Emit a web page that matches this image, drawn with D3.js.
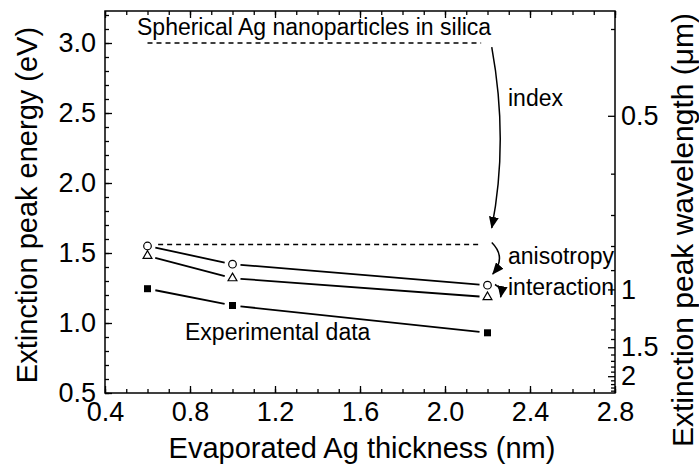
<!DOCTYPE html>
<html>
<head>
<meta charset="utf-8">
<script src="https://cdn.jsdelivr.net/npm/d3@7"></script>
<style>
body { margin: 0; background: #fff; }
text { font-family: "Liberation Sans", Arial, sans-serif; fill: #000; }
</style>
</head>
<body>
<div id="container"></div>
<script>
// data
var thickness = [0.6, 1.0, 2.2];
var anisotropyEnergy = [1.55, 1.42, 1.27];    // open circles
var interactionEnergy = [1.48, 1.32, 1.185];  // open triangles
var experimentalEnergy = [1.245, 1.125, 0.93]; // filled squares
var sphereLevel = 3.0;
var indexLevel = 1.56;

var xTickLabels = [0.4, 0.8, 1.2, 1.6, 2.0, 2.4, 2.8];
var yTickLabels = [0.5, 1.0, 1.5, 2.0, 2.5, 3.0];
var wavelengthMajor = [0.5, 1, 1.5, 2];
var wavelengthMinor = [0.4, 0.6, 0.7, 0.8, 0.9, 1.1, 1.2, 1.3, 1.4, 1.6, 1.7, 1.8, 1.9, 2.1, 2.2, 2.3, 2.4];

var width = 699, height = 468,
    plotLeft = 105, plotRight = 615, plotTop = 11, plotBottom = 393;

var svg = d3.select('#container')
    .append('svg')
    .attr('width', width)
    .attr('height', height);

var x = d3.scaleLinear().domain([0.4, 2.8]).range([plotLeft, plotRight]);
var y = d3.scaleLinear().domain([0.5, 0.5 + (plotBottom - plotTop) / 140]).range([plotBottom, plotTop]);

function toEnergy(l) { return 1.24 / l; }

// axes with inward ticks
function drawAxis(axis, tx, ty, labelled) {
    var g = svg.append('g')
        .attr('transform', 'translate(' + tx + ',' + ty + ')')
        .call(axis);
    g.select('.domain').remove();
    g.selectAll('line').attr('stroke', '#000').attr('stroke-width', 1.3);
    g.selectAll('text')
        .attr('font-family', '"Liberation Sans", Arial, sans-serif')
        .attr('font-size', 27)
        .attr('fill', '#000');
    if (!labelled) g.selectAll('text').remove();
    return g;
}

var minorX = d3.range(4, 29).map(function(d) { return d / 10; });
var minorY = d3.range(5, 33).map(function(d) { return d / 10; });

// bottom
drawAxis(d3.axisBottom(x).tickValues(minorX).tickSize(-4), 0, plotBottom, false);
drawAxis(d3.axisBottom(x).tickValues(xTickLabels).tickSize(-7).tickPadding(9)
    .tickFormat(d3.format('.1f')), 0, plotBottom, true);
// top
drawAxis(d3.axisTop(x).tickValues(minorX).tickSize(-4), 0, plotTop, false);
drawAxis(d3.axisTop(x).tickValues(xTickLabels).tickSize(-7), 0, plotTop, false);
// left
drawAxis(d3.axisLeft(y).tickValues(minorY).tickSize(-4), plotLeft, 0, false);
drawAxis(d3.axisLeft(y).tickValues(yTickLabels).tickSize(-7).tickPadding(9)
    .tickFormat(d3.format('.1f')), plotLeft, 0, true);
// right (wavelength)
drawAxis(d3.axisRight(y).tickValues(wavelengthMinor.map(toEnergy)).tickSize(-4), plotRight, 0, false);
drawAxis(d3.axisRight(y).tickValues(wavelengthMajor.map(toEnergy)).tickSize(-7).tickPadding(6)
    .tickFormat(function(e) { return String(+(1.24 / e).toFixed(1)); }), plotRight, 0, true);

// frame
svg.append('rect')
    .attr('x', plotLeft).attr('y', plotTop)
    .attr('width', plotRight - plotLeft).attr('height', plotBottom - plotTop)
    .attr('fill', 'none').attr('stroke', '#000').attr('stroke-width', 1.5);

// axis titles
svg.append('text')
    .attr('x', (plotLeft + plotRight) / 2 + 2).attr('y', 458)
    .attr('text-anchor', 'middle')
    .style('font-size', '29px')
    .text('Evaporated Ag thickness (nm)');
svg.append('text')
    .attr('transform', 'translate(37,205) rotate(-90)')
    .attr('text-anchor', 'middle')
    .style('font-size', '29px')
    .text('Extinction peak energy (eV)');
svg.append('text')
    .attr('transform', 'translate(671,230) rotate(-90)')
    .attr('text-anchor', 'middle')
    .attr('dominant-baseline', 'hanging')
    .style('font-size', '30px')
    .text('Extinction peak wavelength (\u03bcm)');

// dashed reference levels
svg.append('line')
    .attr('x1', x(0.6)).attr('x2', x(2.17))
    .attr('y1', y(sphereLevel)).attr('y2', y(sphereLevel))
    .attr('stroke', '#000').attr('stroke-width', 1.5).attr('stroke-dasharray', '5,4');
svg.append('line')
    .attr('x1', x(0.65)).attr('x2', x(2.17))
    .attr('y1', y(indexLevel)).attr('y2', y(indexLevel))
    .attr('stroke', '#000').attr('stroke-width', 1.5).attr('stroke-dasharray', '5,4');

// series lines with a gap round every symbol
function drawSeries(values) {
    for (var i = 0; i < thickness.length - 1; i++) {
        var x1 = x(thickness[i]), y1 = y(values[i]),
            x2 = x(thickness[i + 1]), y2 = y(values[i + 1]);
        var len = Math.sqrt((x2 - x1) * (x2 - x1) + (y2 - y1) * (y2 - y1));
        var ux = (x2 - x1) / len, uy = (y2 - y1) / len, gap = 8;
        svg.append('line')
            .attr('x1', x1 + ux * gap).attr('y1', y1 + uy * gap)
            .attr('x2', x2 - ux * gap).attr('y2', y2 - uy * gap)
            .attr('stroke', '#000').attr('stroke-width', 1.8);
    }
}
drawSeries(anisotropyEnergy);
drawSeries(interactionEnergy);
drawSeries(experimentalEnergy);

svg.selectAll('circle.aniso')
    .data(thickness)
    .enter().append('circle')
    .attr('class', 'aniso')
    .attr('cx', function(d) { return x(d); })
    .attr('cy', function(d, i) { return y(anisotropyEnergy[i]); })
    .attr('r', 3.8)
    .attr('fill', '#fff').attr('stroke', '#000').attr('stroke-width', 1.2);

svg.selectAll('path.inter')
    .data(thickness)
    .enter().append('path')
    .attr('class', 'inter')
    .attr('d', d3.symbol().type(d3.symbolTriangle).size(34))
    .attr('transform', function(d, i) {
        return 'translate(' + x(d) + ',' + y(interactionEnergy[i]) + ')';
    })
    .attr('fill', '#fff').attr('stroke', '#000').attr('stroke-width', 1.2);

svg.selectAll('rect.exp')
    .data(thickness)
    .enter().append('rect')
    .attr('class', 'exp')
    .attr('x', function(d) { return x(d) - 3.5; })
    .attr('y', function(d, i) { return y(experimentalEnergy[i]) - 3.5; })
    .attr('width', 7).attr('height', 7)
    .attr('fill', '#000');

// arrows
var defs = svg.append('defs');
defs.append('marker')
    .attr('id', 'head')
    .attr('markerUnits', 'userSpaceOnUse')
    .attr('viewBox', '0 0 12 10')
    .attr('refX', 11).attr('refY', 5)
    .attr('markerWidth', 12).attr('markerHeight', 10)
    .attr('orient', 'auto')
    .append('path').attr('d', 'M0,0 L12,5 L0,10 Z').attr('fill', '#000');

function curve(p0, c, p1) {
    return 'M' + x(p0[0]) + ',' + y(p0[1]) +
        ' Q' + x(c[0]) + ',' + y(c[1]) + ' ' + x(p1[0]) + ',' + y(p1[1]);
}
svg.append('path')
    .attr('d', curve([2.22, 2.97], [2.30, 2.30], [2.22, 1.68]))
    .attr('fill', 'none').attr('stroke', '#000').attr('stroke-width', 1.5)
    .attr('marker-end', 'url(#head)');
svg.append('path')
    .attr('d', curve([2.22, 1.575], [2.29, 1.47], [2.225, 1.35]))
    .attr('fill', 'none').attr('stroke', '#000').attr('stroke-width', 1.5)
    .attr('marker-end', 'url(#head)');
svg.append('path')
    .attr('d', curve([2.235, 1.275], [2.27, 1.25], [2.262, 1.185]))
    .attr('fill', 'none').attr('stroke', '#000').attr('stroke-width', 1.5)
    .attr('marker-end', 'url(#head)');

// annotations
function note(txt, tx, ty) {
    svg.append('text').attr('x', tx).attr('y', ty)
        .style('font-size', '23px').text(txt);
}
note('Spherical Ag nanoparticles in silica', 137, 35);
note('index', 508, 106);
note('anisotropy', 508, 264);
note('interaction', 508, 295);
note('Experimental data', 185, 340);
</script>
</body>
</html>
